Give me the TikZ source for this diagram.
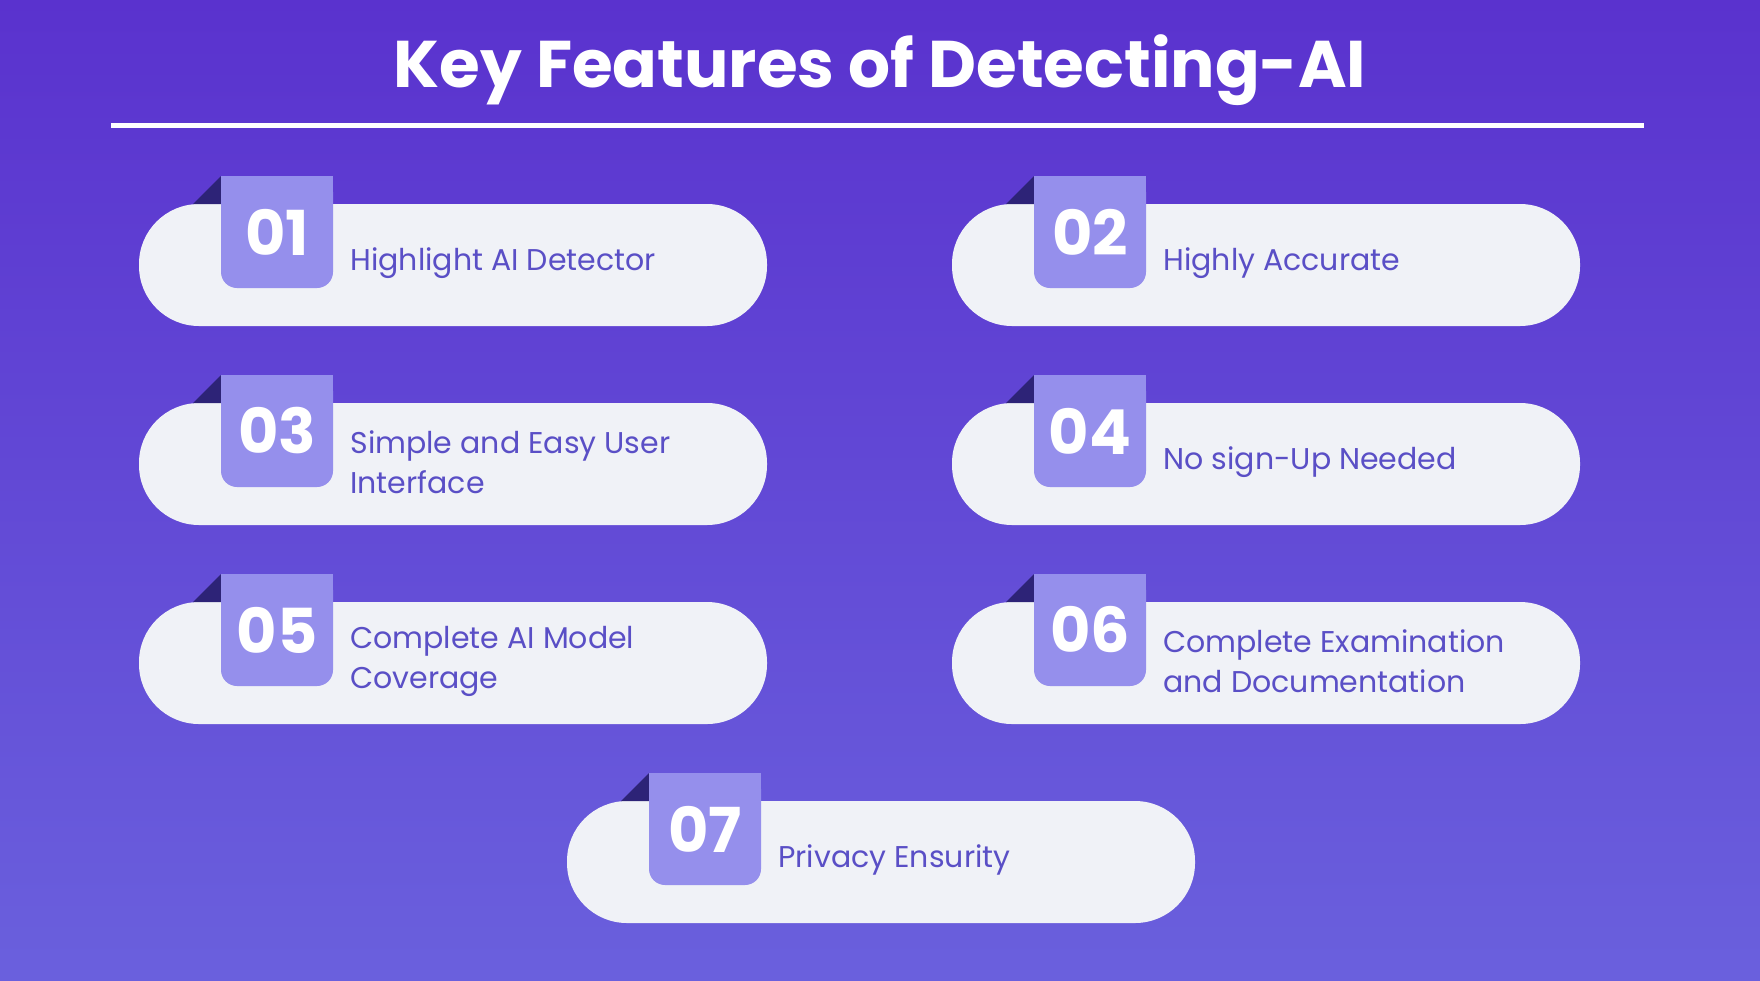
\documentclass[tikz,border=0pt]{standalone}
\usepackage{fontspec}
\setmainfont{Poppins}
\newfontfamily\popb{Poppins}[UprightFont=* Bold]
\definecolor{bgA}{HTML}{5A32CE}
\definecolor{bgB}{HTML}{6A60DD}
\definecolor{cardc}{HTML}{F0F2F7}
\definecolor{badgec}{HTML}{958FEC}
\definecolor{foldc}{HTML}{2D2377}
\definecolor{txtc}{HTML}{5A4FC6}
\tikzset{
 cardbox/.style={fill=cardc, rounded corners=30pt},
 badgebox/.style={fill=badgec},
 numtxt/.style={text=white, font=\popb\fontsize{31}{31}\selectfont, anchor=center, inner sep=0},
 labtxt/.style={text=txtc, font=\fontsize{15}{20}\selectfont, anchor=west, align=left, inner sep=0},
}
\newcommand\featcard[5]{% name, x, y, number, label
  \fill[cardbox] (#2,#3) rectangle ++(628,122);
  \fill[foldc] (#2+54,#3) -- (#2+82,#3-28) -- (#2+82,#3) -- cycle;
  \fill[badgebox, rounded corners=8pt] (#2+82,#3-28) rectangle (#2+194,#3+84);
  \fill[badgebox] (#2+82,#3-28) rectangle (#2+194,#3+30);
  \node[numtxt] (#1n) at (#2+138,#3+28) {#4};
  \node[labtxt] (#1l) at (#2+211,#3+59) {#5};
}
\begin{document}
\begin{tikzpicture}[x=0.5pt,y=-0.5pt]
\shade[left color=bgA, right color=bgB, shading angle=0] (0,0) rectangle (1760,980);
\useasboundingbox (0,0) rectangle (1760,980);
\node[text=white, font=\popb\fontsize{33}{33}\selectfont, inner sep=0] (title) at (880,70) {Key Features of Detecting-AI};
\fill[white] (111,122.5) rectangle (1644,127.5);
\featcard{c1}{139}{204}{01}{Highlight AI Detector}
\featcard{c2}{952}{204}{02}{Highly Accurate}
\featcard{c3}{139}{403}{03}{Simple and Easy User\\Interface}
\featcard{c4}{952}{403}{04}{No sign-Up Needed}
\featcard{c5}{139}{602}{05}{Complete AI Model\\Coverage}
\featcard{c6}{952}{602}{06}{Complete Examination\\and Documentation}
\featcard{c7}{567}{801}{07}{Privacy Ensurity}
\end{tikzpicture}
\end{document}
